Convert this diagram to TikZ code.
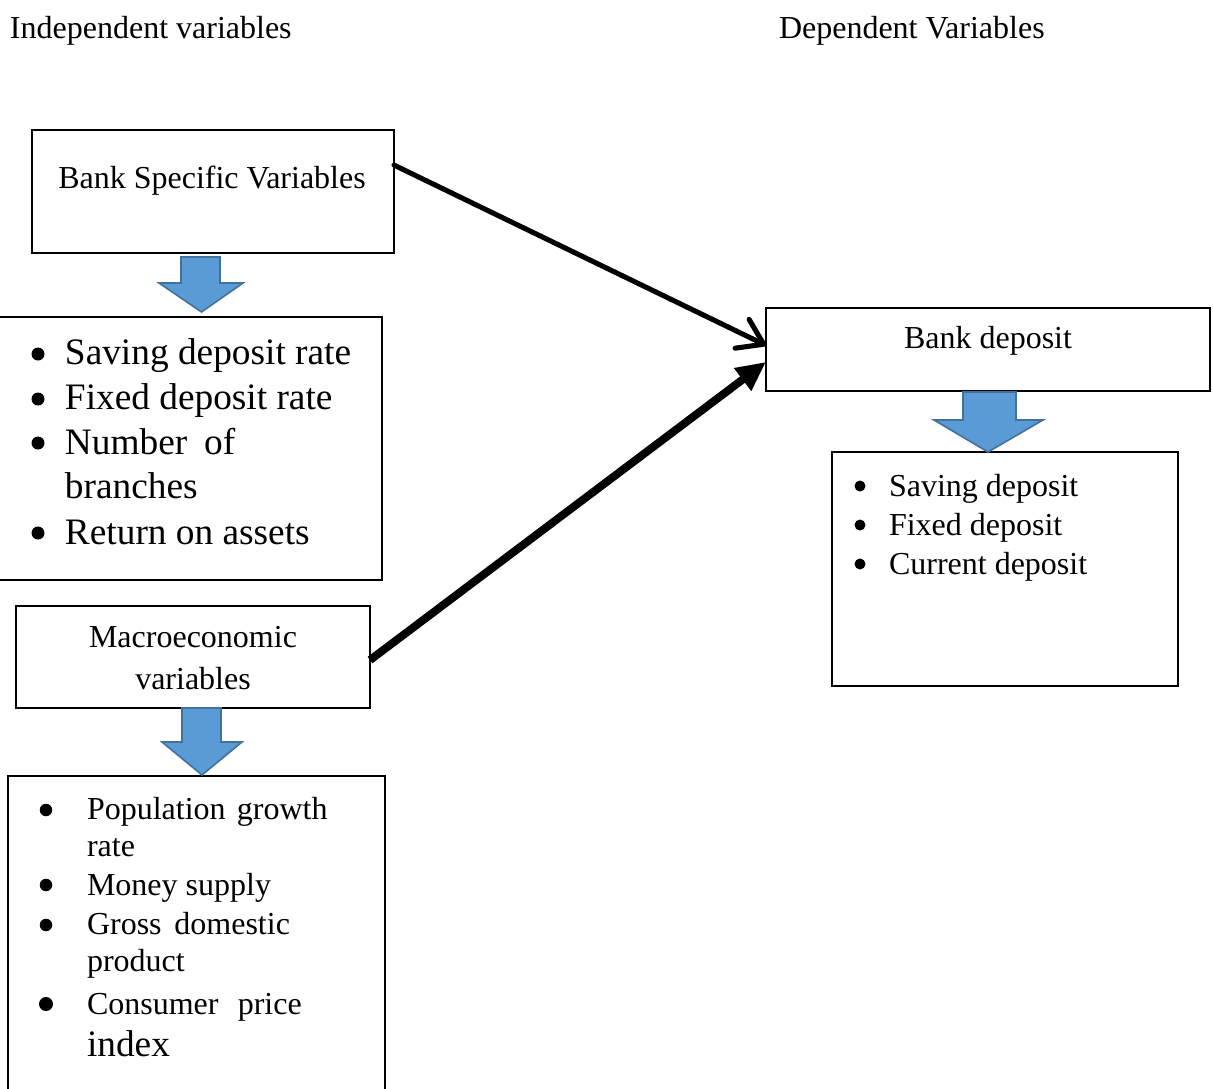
\documentclass[tikz,border=0pt]{standalone}
\usepackage{fontspec}
\setmainfont{Liberation Serif}
\usetikzlibrary{arrows.meta,calc}
\definecolor{blkfill}{HTML}{5B9BD5}
\definecolor{blkline}{HTML}{41719C}
\begin{document}
\begin{tikzpicture}[x=0.375pt,y=-0.375pt,
  boxnode/.style={draw=black,line width=0.75pt,inner sep=0pt,outer sep=0pt,fill=white},
  txt/.style={inner sep=0pt,outer sep=0pt,font=\fontsize{12}{14}\selectfont,text height=0.7em,text depth=0.25em,yshift=-1.9pt},
  bigtxt/.style={txt,font=\fontsize{14}{16}\selectfont},
  lefttxt/.style={txt,anchor=west},
  leftbig/.style={bigtxt,anchor=west},
  bul/.style={circle,fill=black,inner sep=0pt,outer sep=0pt,minimum size=#1},
  blockarrow/.style={fill=blkfill,draw=blkline,line width=0.6pt,line join=miter},
  thinconn/.style={line width=1.9pt,-{Straight Barb[length=9pt,width=12pt,round]},line cap=round},
  thickconn/.style={line width=3pt,-{Triangle[length=11pt,width=10pt]}}
]
\useasboundingbox (0,0) rectangle (1213,1088);

% headings
\node[lefttxt] (hind) at (10,27) {Independent variables};
\node[lefttxt] (hdep) at (779,27) {Dependent Variables};

% boxes
\node[boxnode,minimum width=135.75pt,minimum height=46.125pt] (box1) at (213,191.5) {};
\node[boxnode,minimum width=145.125pt,minimum height=98.625pt] (box2) at (188.5,448.5) {};
\node[boxnode,minimum width=132.75pt,minimum height=38.25pt] (box3) at (193,657) {};
\node[boxnode,minimum width=141.375pt,minimum height=121.5pt] (box4) at (196.5,938) {};
\node[boxnode,minimum width=166.5pt,minimum height=31.125pt] (box5) at (988,349.5) {};
\node[boxnode,minimum width=129.75pt,minimum height=87.75pt] (box6) at (1005,569) {};

% block arrows
\draw[blockarrow] (181,257) -- (220,257) -- (220,283) -- (243,283) -- (201.5,312) -- (159,283) -- (181,283) -- cycle;
\draw[blockarrow] (182,708) -- (221,708) -- (221,742) -- (242,742) -- (202,775) -- (162,742) -- (182,742) -- cycle;
\draw[blockarrow] (963,392) -- (1016,392) -- (1016,420) -- (1043,420) -- (988,452) -- (934,420) -- (963,420) -- cycle;

% box texts
\node[txt] (t1) at (212,177) {Bank Specific Variables};
\node[txt] (t3a) at (193,636) {Macroeconomic};
\node[txt] (t3b) at (193,678) {variables};
\node[txt] (t5) at (988,337) {Bank deposit};

% box2 list
\node[bul=13pt*0.375] (b2a) at (38,354) {};
\node[bul=13pt*0.375] (b2b) at (38,399) {};
\node[bul=13pt*0.375] (b2c) at (38,443) {};
\node[bul=13pt*0.375] (b2d) at (38,533) {};
\node[leftbig] (l2a) at (65,353) {Saving deposit rate};
\node[leftbig] (l2b) at (65,398) {Fixed deposit rate};
\node[leftbig] (l2c) at (65,443) {Number\hspace{0.45em}of};
\node[leftbig] (l2d) at (65,487) {branches};
\node[leftbig] (l2e) at (65,533) {Return on assets};

% box4 list
\node[bul=12.5pt*0.375] (b4a) at (46,810) {};
\node[bul=12.5pt*0.375] (b4b) at (46,885) {};
\node[bul=12.5pt*0.375] (b4c) at (46,925) {};
\node[bul=14pt*0.375] (b4d) at (46,1004) {};
\node[lefttxt] (l4a) at (87,808) {Population\hspace{0.35em}growth};
\node[lefttxt] (l4b) at (87,845) {rate};
\node[lefttxt] (l4c) at (87,884) {Money supply};
\node[lefttxt] (l4d) at (87,923) {Gross\hspace{0.4em}domestic};
\node[lefttxt] (l4e) at (87,960) {product};
\node[lefttxt] (l4f) at (87,1003) {Consumer\hspace{0.6em}price};
\node[leftbig] (l4g) at (87,1045) {index};

% box6 list
\node[bul=11pt*0.375] (b6a) at (860,486) {};
\node[bul=11pt*0.375] (b6b) at (860,525) {};
\node[bul=11pt*0.375] (b6c) at (860,564) {};
\node[lefttxt] (l6a) at (889,485) {Saving deposit};
\node[lefttxt] (l6b) at (889,524) {Fixed deposit};
\node[lefttxt] (l6c) at (889,563) {Current deposit};

% connectors
\draw[thinconn] ($(box1.north east)!0.285!(box1.south east)$) -- ($(box5.north west)!0.45!(box5.south west)$);
\draw[thickconn] ($(box3.north east)!0.53!(box3.south east)$) -- ($(box5.north west)!0.65!(box5.south west)$);
\end{tikzpicture}
\end{document}
